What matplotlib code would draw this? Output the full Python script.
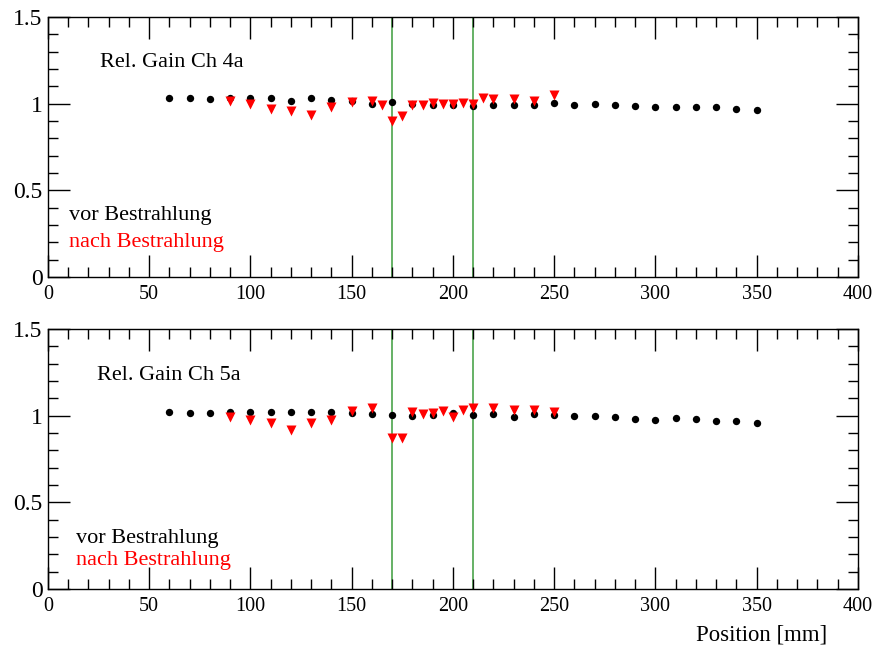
import numpy as np
import matplotlib.pyplot as plt
from matplotlib.ticker import MultipleLocator, FuncFormatter

plt.rcParams['font.family'] = ['Liberation Serif', 'DejaVu Serif']

# --- data ---
pos_vor = np.arange(60, 351, 10)
gain4_vor = [1.030, 1.032, 1.025, 1.032, 1.030, 1.034, 1.015, 1.034, 1.019, 1.015,
             0.998, 1.009, 0.995, 0.992, 0.990, 0.985, 0.990, 0.990, 0.990, 1.002,
             0.990, 0.996, 0.992, 0.988, 0.979, 0.979, 0.981, 0.981, 0.971, 0.962]
gain5_vor = [1.023, 1.017, 1.017, 1.018, 1.020, 1.020, 1.020, 1.020, 1.020, 1.017,
             1.011, 1.004, 0.999, 1.004, 1.013, 1.004, 1.011, 0.992, 1.011, 1.004,
             0.999, 0.999, 0.992, 0.983, 0.977, 0.988, 0.983, 0.971, 0.966, 0.960]

pos4_nach = [90, 100, 110, 120, 130, 140, 150, 160, 165, 170, 175, 180, 185, 190,
             195, 200, 205, 210, 215, 220, 230, 240, 250]
gain4_nach = [1.017, 0.996, 0.967, 0.956, 0.935, 0.979, 1.011, 1.013, 0.994, 0.899,
              0.931, 0.994, 0.994, 1.006, 0.998, 1.000, 1.004, 1.000, 1.030, 1.025,
              1.028, 1.017, 1.047]
pos5_nach = [90, 100, 110, 120, 130, 140, 150, 160, 170, 175, 180, 185, 190,
             195, 200, 205, 210, 220, 230, 240, 250]
gain5_nach = [0.994, 0.977, 0.960, 0.916, 0.960, 0.977, 1.026, 1.042, 0.872, 0.872,
              1.019, 1.007, 1.013, 1.026, 0.990, 1.032, 1.042, 1.042, 1.034, 1.030,
              1.023]

boundaries = [170, 210]
titles = ['Rel. Gain Ch 4a', 'Rel. Gain Ch 5a']

fig = plt.figure(figsize=(8.8, 6.5), dpi=100)
ax_top = fig.add_axes([0.0545, 0.574, 0.9205, 0.4])
ax_bot = fig.add_axes([0.0545, 0.094, 0.9205, 0.4])

# (axes, black, red x, red y, title, title pos, legend pos, legend spacing)
panels = [
    (ax_top, gain4_vor, pos4_nach, gain4_nach, titles[0], (0.064, 0.808), (0.026, 0.219), 0.104),
    (ax_bot, gain5_vor, pos5_nach, gain5_nach, titles[1], (0.061, 0.804), (0.035, 0.177), 0.086),
]

for ax, vor, pos_n, nach, title, tpos, lpos, dy in panels:
    for b in boundaries:
        ax.axvline(b, color='#3c9c3c', lw=1.1, zorder=1)
    ax.plot(pos_vor, vor, 'o', color='black', ms=5.3, mec='none', zorder=3)
    ax.plot(pos_n, nach, 'v', color='red', ms=7, mec='none', zorder=4)

    ax.set_xlim(0, 400)
    ax.set_ylim(0, 1.5)
    ax.xaxis.set_major_locator(MultipleLocator(50))
    ax.xaxis.set_minor_locator(MultipleLocator(10))
    ax.yaxis.set_major_locator(MultipleLocator(0.5))
    ax.yaxis.set_minor_locator(MultipleLocator(0.1))
    ax.yaxis.set_major_formatter(FuncFormatter(lambda v, p: '%g' % v))
    ax.tick_params(which='both', direction='in', top=True, right=True, width=1)
    ax.tick_params(which='major', length=16)
    ax.tick_params(which='minor', length=7)
    ax.tick_params(axis='x', labelsize=14.5, pad=6)
    ax.tick_params(axis='y', labelsize=17, pad=4)
    for s in ax.spines.values():
        s.set_linewidth(1)

    ax.text(tpos[0], tpos[1], title, transform=ax.transAxes, fontsize=16)
    ax.text(lpos[0], lpos[1], 'vor Bestrahlung', transform=ax.transAxes,
            fontsize=16, color='black')
    ax.text(lpos[0], lpos[1] - dy, 'nach Bestrahlung', transform=ax.transAxes,
            fontsize=16, color='red')

fig.text(827 / 880, 1 - 640 / 650, 'Position [mm]', ha='right', va='baseline',
         fontsize=16.4)

fig.savefig('out.png', dpi=100)
